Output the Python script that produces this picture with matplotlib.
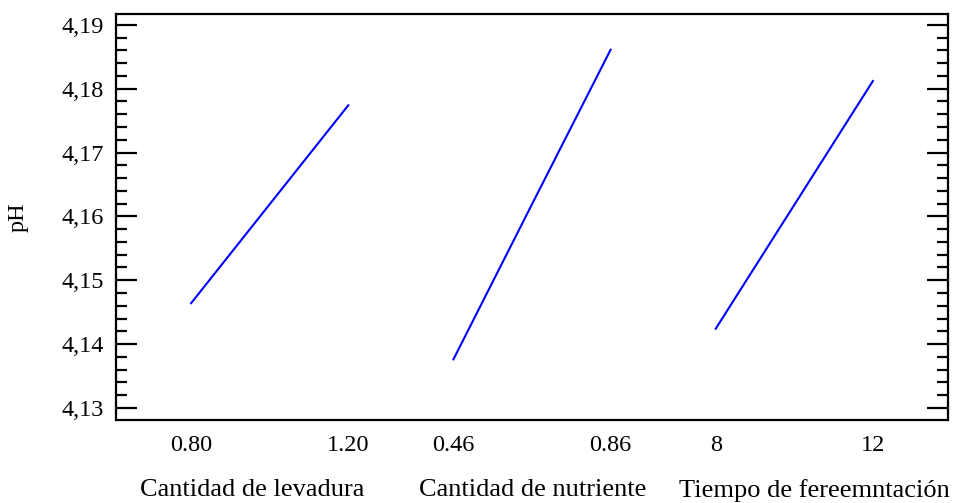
import numpy as np
import matplotlib.pyplot as plt
from matplotlib.ticker import MultipleLocator, FuncFormatter

plt.rcParams.update({'font.family': ['Liberation Serif', 'DejaVu Serif'], 'font.size': 17})

# factor names and low/high levels
factores = ['Cantidad de levadura', 'Cantidad de nutriente', 'Tiempo de fereemntación']
niveles = [['0.80', '1.20'], ['0.46', '0.86'], ['8', '12']]

# pH read at low, middle and high level of each factor
ph_levadura = [4.1464, 4.1619, 4.1774]
ph_nutriente = [4.1376, 4.1619, 4.1861]
ph_tiempo = [4.1424, 4.1618, 4.1812]
series = [ph_levadura, ph_nutriente, ph_tiempo]

ancho = 1.0   # width of each factor block
paso = 1.669  # distance between block starts
pos_nombre = [0.1635, 0.501, 0.839]  # factor name centres, axes fraction

fig = plt.figure(figsize=(9.65, 5.03), dpi=100)
ax = fig.add_axes([116/965, 1-420/503, (948-116)/965, (420-14)/503])

xticks = []
xlabels = []
for i, ph in enumerate(series):
    x0 = i*paso
    x = np.linspace(x0, x0+ancho, len(ph))
    ax.plot(x, ph, '-', color='#0000ff', lw=1.5)
    xticks += [x0, x0+ancho]
    xlabels += niveles[i]
    ax.text(pos_nombre[i], -0.173, factores[i], transform=ax.transAxes,
            ha='center', va='center', fontsize=19)

ax.set_xlim(-0.478, 2*paso+ancho+0.478)
ax.set_ylim(4.1281, 4.1917)
ax.set_xticks(xticks)
ax.set_xticklabels(xlabels)
ax.tick_params(axis='x', length=0, pad=11, labelsize=17.5)
ax.yaxis.set_major_locator(MultipleLocator(0.01))
ax.yaxis.set_minor_locator(MultipleLocator(0.002))
ax.yaxis.set_major_formatter(FuncFormatter(lambda v, p: ('%.2f' % v).replace('.', ',')))
ax.tick_params(axis='y', which='major', direction='in', length=15, width=1.6, right=True, labelsize=17.5, pad=9)
ax.tick_params(axis='y', which='minor', direction='in', length=8, width=1.6, right=True)
for s in ax.spines.values():
    s.set_linewidth(1.6)
ax.set_ylabel('pH', fontsize=17.5, va='center')
ax.yaxis.set_label_coords(-0.118, 0.5)

plt.savefig('out.png', dpi=100)
